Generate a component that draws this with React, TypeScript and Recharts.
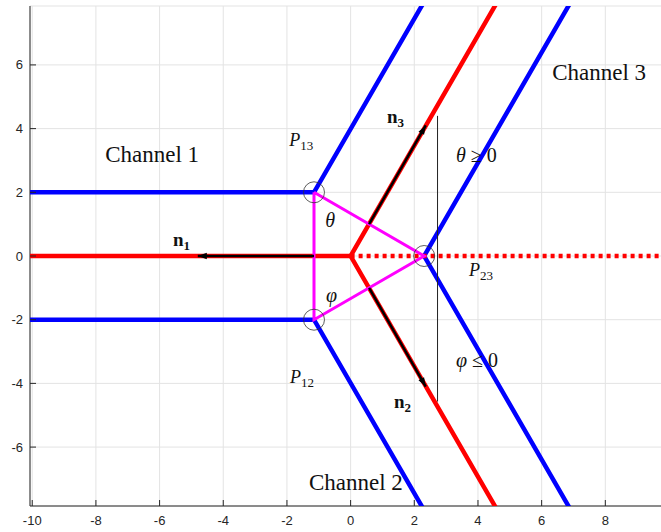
import React from "react";
import {
  CartesianGrid,
  ComposedChart,
  ReferenceDot,
  Scatter,
  XAxis,
  YAxis,
} from "recharts";

// axis ticks
const xTicks = [-10, -8, -6, -4, -2, 0, 2, 4, 6, 8];
const yTicks = [-6, -4, -2, 0, 2, 4, 6];

// channel walls (blue)
const blueUpper = [
  { x: -10.5, y: 2 },
  { x: -1.15, y: 2 },
  { x: 2.26, y: 7.9 },
];
const blueLower = [
  { x: -10.5, y: -2 },
  { x: -1.15, y: -2 },
  { x: 2.26, y: -7.9 },
];
const blueRight = [
  { x: 6.87, y: 7.9 },
  { x: 2.31, y: 0 },
  { x: 6.87, y: -7.9 },
];

// channel centre lines (red)
const redLeft = [
  { x: -10.5, y: 0 },
  { x: 0, y: 0 },
];
const redFork = [
  { x: 4.56, y: 7.9 },
  { x: 0, y: 0 },
  { x: 4.56, y: -7.9 },
];
const redDotted = [
  { x: 0, y: 0 },
  { x: 10.2, y: 0 },
];

// triangle P13 - P12 - P23 (magenta)
const triangle = [
  { x: -1.15, y: 2 },
  { x: -1.15, y: -2 },
  { x: 2.31, y: 0 },
  { x: -1.15, y: 2 },
];

// corner points with circles
const corners = [
  { x: -1.15, y: 2 },
  { x: -1.15, y: -2 },
  { x: 2.31, y: 0 },
];

// normals n1, n2, n3 (start -> tip)
const n1 = [
  { x: -1.15, y: 0 },
  { x: -4.8, y: 0 },
];
const n2 = [
  { x: 0.58, y: -1 },
  { x: 2.36, y: -4.1 },
];
const n3 = [
  { x: 0.58, y: 1 },
  { x: 2.36, y: 4.1 },
];
const arrows = [n1, n2, n3];

// thin vertical marker
const vline = [
  { x: 2.73, y: 4.4 },
  { x: 2.73, y: -4.57 },
];

// text labels (data coords of left baseline)
const labels = [
  { kind: "channel", text: "Channel 1", x: -7.71, y: 2.95 },
  { kind: "channel", text: "Channel 2", x: -1.31, y: -7.35 },
  { kind: "channel", text: "Channel 3", x: 6.33, y: 5.53 },
  { kind: "P", text: "13", x: -1.93, y: 3.45 },
  { kind: "P", text: "12", x: -1.9, y: -3.99 },
  { kind: "P", text: "23", x: 3.72, y: -0.63 },
  { kind: "greek", text: "θ", x: -0.8, y: 0.91 },
  { kind: "greek", text: "φ", x: -0.77, y: -1.45 },
  { kind: "n", text: "1", x: -5.58, y: 0.31 },
  { kind: "n", text: "2", x: 1.36, y: -4.77 },
  { kind: "n", text: "3", x: 1.14, y: 4.18 },
  { kind: "ineq", text: "θ|≥", x: 3.31, y: 2.95 },
  { kind: "ineq", text: "φ|≤", x: 3.31, y: -3.49 },
];

const AX = "#262626";
const GRID = "#e3e3e3";
const SANS = "Liberation Sans, Arial, sans-serif";
const SERIF = "Liberation Serif, Times New Roman, serif";
const BLUE = "#0000ff";
const RED = "#ff0000";
const MAGENTA = "#ff00ff";

const NoDot = () => <g />;

const BottomTick = (p: any) => (
  <g>
    <line x1={p.x} x2={p.x} y1={p.y} y2={p.y - 6} stroke={AX} strokeWidth={1} />
    <text x={p.x} y={p.y + 19} textAnchor="middle" fontSize={13} fill={AX} fontFamily={SANS}>
      {p.payload.value}
    </text>
  </g>
);

const TopTick = (p: any) => (
  <line x1={p.x} x2={p.x} y1={p.y} y2={p.y + 6} stroke={AX} strokeWidth={1} />
);

const LeftTick = (p: any) => (
  <g>
    <line x1={p.x} x2={p.x + 6} y1={p.y} y2={p.y} stroke={AX} strokeWidth={1} />
    <text x={p.x - 7} y={p.y + 4.5} textAnchor="end" fontSize={13} fill={AX} fontFamily={SANS}>
      {p.payload.value}
    </text>
  </g>
);

const Label = (p: any) => {
  const d = p.payload;
  const { cx, cy } = p;
  if (d.kind === "channel") {
    return (
      <text x={cx} y={cy} fontSize={23} fontFamily={SERIF} fill="#111">
        {d.text}
      </text>
    );
  }
  if (d.kind === "P") {
    return (
      <text x={cx} y={cy} fontSize={18} fontFamily={SERIF} fill="#111">
        <tspan fontStyle="italic">P</tspan>
        <tspan fontSize={13} dy={4}>
          {d.text}
        </tspan>
      </text>
    );
  }
  if (d.kind === "greek") {
    return (
      <text x={cx} y={cy} fontSize={20} fontStyle="italic" fontFamily={SERIF} fill="#111">
        {d.text}
      </text>
    );
  }
  if (d.kind === "n") {
    return (
      <text x={cx} y={cy} fontSize={19} fontWeight="bold" fontFamily={SERIF} fill="#111">
        n
        <tspan fontSize={13} dy={4}>
          {d.text}
        </tspan>
      </text>
    );
  }
  const [g, op] = d.text.split("|");
  return (
    <text x={cx} y={cy} fontSize={20} fontFamily={SERIF} fill="#111">
      <tspan fontStyle="italic">{g}</tspan>
      <tspan dx={5}>{op}</tspan>
      <tspan dx={5}>0</tspan>
    </text>
  );
};

const ArrowHead = (p: any) => (
  <polygon
    points="0,0 -9,-3.2 -9,3.2"
    transform={`translate(${p.cx},${p.cy}) rotate(${p.angle})`}
    fill="#000"
  />
);

const Ring = (p: any) => (
  <circle cx={p.cx} cy={p.cy} r={10.5} fill="none" stroke="#333" strokeWidth={0.8} />
);

export default function App() {
  const seg = (data: any[], stroke: string, width: number, extra: any = {}) => (
    <Scatter
      data={data}
      shape={NoDot}
      line={{ stroke, strokeWidth: width, ...extra }}
      isAnimationActive={false}
    />
  );

  return (
    <div style={{ position: "absolute", left: 0, top: 0, width: 661, height: 532, overflow: "hidden", background: "#fff" }}>
      <ComposedChart width={680} height={532} margin={{ top: 6, right: 18, bottom: 0, left: 0 }}>
        <CartesianGrid stroke={GRID} strokeWidth={1} />
        <XAxis
          type="number"
          dataKey="x"
          domain={[-10.07, 9.78]}
          ticks={xTicks}
          interval={0}
          allowDataOverflow
          height={26}
          tickSize={0}
          tickMargin={0}
          tick={BottomTick}
          axisLine={{ stroke: AX, strokeWidth: 1 }}
          tickLine={false}
        />
        <XAxis
          xAxisId="top"
          orientation="top"
          type="number"
          domain={[-10.07, 9.78]}
          ticks={xTicks}
          interval={0}
          allowDataOverflow
          height={0}
          tickSize={0}
          tickMargin={0}
          tick={TopTick}
          axisLine={{ stroke: AX, strokeWidth: 1 }}
          tickLine={false}
        />
        <YAxis
          type="number"
          dataKey="y"
          domain={[-7.85, 7.85]}
          ticks={yTicks}
          interval={0}
          allowDataOverflow
          width={30}
          tickSize={0}
          tickMargin={0}
          tick={LeftTick}
          axisLine={{ stroke: AX, strokeWidth: 1 }}
          tickLine={false}
        />

        {seg(blueUpper, BLUE, 4.5)}
        {seg(blueLower, BLUE, 4.5)}
        {seg(blueRight, BLUE, 4.5)}
        {seg(redLeft, RED, 4.5)}
        {seg(redFork, RED, 4.5)}
        {seg(redDotted, RED, 4.5, { strokeDasharray: "4 4" })}
        {seg(triangle, MAGENTA, 3)}
        {seg(n1, "#000", 2.5)}
        {seg(n2, "#000", 2.5)}
        {seg(n3, "#000", 2.5)}
        {seg(vline, "#222", 1)}

        {arrows.map((a, i) => {
          const angle =
            (Math.atan2(-(a[1].y - a[0].y), a[1].x - a[0].x) * 180) / Math.PI;
          return (
            <ReferenceDot
              key={`head-${i}`}
              x={a[1].x}
              y={a[1].y}
              r={4}
              shape={(p: any) => <ArrowHead {...p} angle={angle} />}
            />
          );
        })}
        {corners.map((c, i) => (
          <ReferenceDot key={`ring-${i}`} x={c.x} y={c.y} r={10.5} shape={Ring} />
        ))}

        <Scatter data={labels} shape={Label} isAnimationActive={false} />
      </ComposedChart>
    </div>
  );
}
